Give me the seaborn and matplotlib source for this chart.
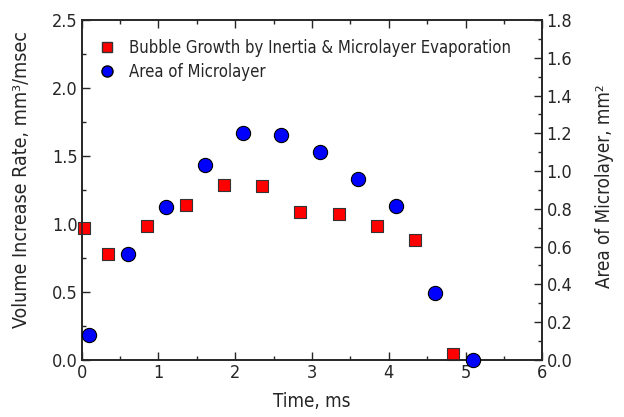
import numpy as np
import pandas as pd
import matplotlib
matplotlib.use("Agg")
import matplotlib.pyplot as plt
from matplotlib.ticker import MultipleLocator
from matplotlib.lines import Line2D
import seaborn as sns

# ---------------------------------------------------------------------------
# data
# ---------------------------------------------------------------------------
growth_time = [0.03, 0.34, 0.85, 1.36, 1.85, 2.35, 2.84, 3.35, 3.85, 4.34, 4.84]
growth_rate = [0.97, 0.78, 0.985, 1.14, 1.29, 1.28, 1.09, 1.07, 0.985, 0.88, 0.04]

area_time = [0.09, 0.60, 1.10, 1.60, 2.10, 2.60, 3.10, 3.60, 4.10, 4.60, 5.10]
area_val = [0.13, 0.56, 0.81, 1.03, 1.20, 1.19, 1.10, 0.96, 0.815, 0.355, 0.0]

growth = pd.DataFrame({"t": growth_time, "v": growth_rate})
area = pd.DataFrame({"t": area_time, "a": area_val})

sns.set_style("ticks")
plt.rcParams["font.family"] = ["DejaVu Sans"]
plt.rcParams["font.stretch"] = "condensed"

fig = plt.figure(figsize=(6.24, 4.17), dpi=100)
ax = fig.add_axes([0.131, 0.137, 0.738, 0.815])
ax2 = ax.twinx()

sns.scatterplot(data=growth, x="t", y="v", ax=ax, marker="s", s=75,
                color="#ff0000", edgecolor="#333333", linewidth=0.8,
                zorder=3, legend=False, clip_on=False)
sns.scatterplot(data=area, x="t", y="a", ax=ax2, marker="o", s=105,
                color="#0000ff", edgecolor="black", linewidth=0.8,
                zorder=3, legend=False, clip_on=False)

ax.set_xlim(0, 6)
ax.set_ylim(0, 2.5)
ax2.set_ylim(0, 1.8)

ax.xaxis.set_major_locator(MultipleLocator(1))
ax.xaxis.set_minor_locator(MultipleLocator(0.5))
ax.yaxis.set_major_locator(MultipleLocator(0.5))
ax.yaxis.set_minor_locator(MultipleLocator(0.25))
ax2.yaxis.set_major_locator(MultipleLocator(0.2))
ax2.yaxis.set_minor_locator(MultipleLocator(0.1))
ax.yaxis.set_major_formatter(plt.FormatStrFormatter("%.1f"))
ax2.yaxis.set_major_formatter(plt.FormatStrFormatter("%.1f"))

ax.tick_params(which="both", direction="in", top=True, right=False,
               labelsize=13, width=1, pad=3)
ax.tick_params(which="major", length=6)
ax.tick_params(which="minor", length=3)
ax2.tick_params(which="both", direction="in", labelsize=13, width=1, pad=3)
ax2.tick_params(which="major", length=6)
ax2.tick_params(which="minor", length=3)
for a in (ax, ax2):
    for sp in a.spines.values():
        sp.set_visible(True)
        sp.set_linewidth(1.2)

ax.set_xlabel("Time, ms", fontsize=13.5, labelpad=7)
ax.set_ylabel("Volume Increase Rate, mm\u00b3/msec", fontsize=14)
ax.yaxis.set_label_coords(-0.111, 0.53)
ax2.set_ylabel("Area of Microlayer, mm\u00b2", fontsize=13.5)
ax2.yaxis.set_label_coords(1.115, 0.51)

handles = [
    Line2D([], [], ls="none", marker="s", ms=7, mfc="#ff0000", mec="#333333"),
    Line2D([], [], ls="none", marker="o", ms=8, mfc="#0000ff", mec="black"),
]
ax.legend(handles, ["Bubble Growth by Inertia & Microlayer Evaporation",
                    "Area of Microlayer"],
          loc="upper left", frameon=False, fontsize=12,
          handlelength=1.0, handletextpad=0.85, labelspacing=0.35,
          borderaxespad=0, bbox_to_anchor=(0.022, 0.964))

fig.savefig("out.png", dpi=100)
